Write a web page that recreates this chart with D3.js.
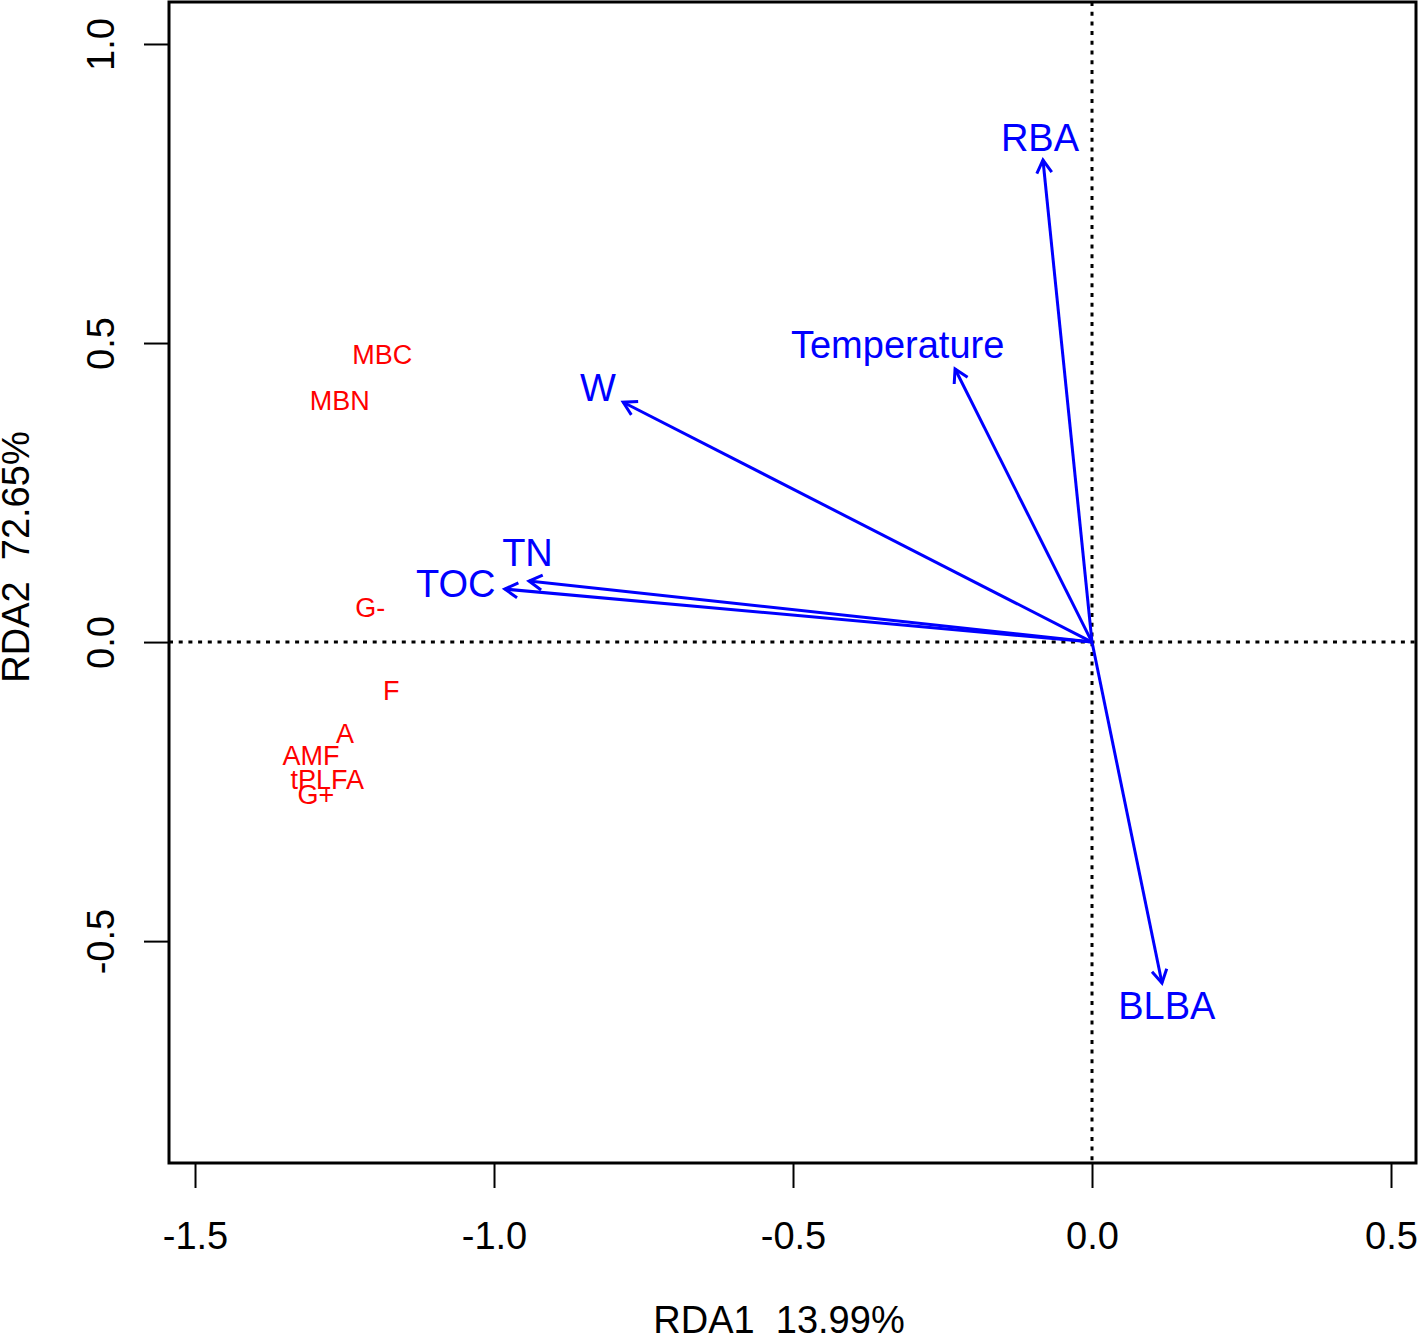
<!DOCTYPE html>
<html><head><meta charset="utf-8">
<script src="https://cdn.jsdelivr.net/npm/d3@7"></script>
<style>body{margin:0;background:#fff}svg{display:block}text{font-family:"Liberation Sans",Arial,Helvetica,sans-serif;white-space:pre}</style>
</head><body>
<svg id="c" width="1418" height="1335"></svg>
<script>
// Environmental vectors (arrow tips, RDA1/RDA2)
const envNames = ["RBA","Temperature","W","TN","TOC","BLBA"];
const envX = [-0.082,-0.229,-0.784,-0.9415,-0.982,0.117];
const envY = [0.806,0.4565,0.401,0.102,0.0886,-0.570];
// label positions for environmental vectors
const envLabX = [-0.087,-0.325,-0.826,-0.944,-1.064,0.125];
const envLabY = [0.843,0.497,0.424,0.149,0.097,-0.609];
// Response variables (species scores)
const spNames = ["MBC","MBN","G-","F","A","AMF","tPLFA","G+"];
const spX = [-1.187,-1.258,-1.207,-1.172,-1.249,-1.306,-1.279,-1.298];
const spY = [0.480,0.403,0.057,-0.082,-0.154,-0.191,-0.231,-0.256];
const xTicks = [-1.5,-1.0,-0.5,0.0,0.5];
const yTicks = [-0.5,0.0,0.5,1.0];
const xTitle = "RDA1  13.99%";
const yTitle = "RDA2  72.65%";

const svg = d3.select("#c");
const L=169,R=1416,T=2,B=1163;
const x = d3.scaleLinear().domain([-1.5435,0.5418]).range([L,R]);
const y = d3.scaleLinear().domain([-0.871,1.0702]).range([B,T]);
const fmt = d => d.toFixed(1);

// reference dotted lines
svg.append("line").attr("x1",L).attr("x2",R).attr("y1",y(0)).attr("y2",y(0))
  .attr("stroke","#000").attr("stroke-width",3).attr("stroke-dasharray","4,5.7");
svg.append("line").attr("x1",x(0)).attr("x2",x(0)).attr("y1",T).attr("y2",B)
  .attr("stroke","#000").attr("stroke-width",3).attr("stroke-dasharray","4,5.7");

// axes
const xAxis = d3.axisBottom(x).tickValues(xTicks).tickFormat(fmt).tickSize(25).tickPadding(34);
const gx = svg.append("g").attr("transform",`translate(0,${B})`).call(xAxis);
gx.select(".domain").remove();
gx.selectAll("line").attr("stroke","#000").attr("stroke-width",2);
gx.selectAll("text").attr("font-size",38).attr("fill","#000").attr("font-family",'"Liberation Sans",Arial,sans-serif');

const yAxis = d3.axisLeft(y).tickValues(yTicks).tickFormat(fmt).tickSize(25);
const gy = svg.append("g").attr("transform",`translate(${L},0)`).call(yAxis);
gy.select(".domain").remove();
gy.selectAll("line").attr("stroke","#000").attr("stroke-width",2);
gy.selectAll("text").attr("font-size",38).attr("fill","#000").attr("font-family",'"Liberation Sans",Arial,sans-serif')
  .attr("x",0).attr("dy",null).attr("text-anchor","middle")
  .attr("dominant-baseline","central")
  .attr("transform","translate(-68,0) rotate(-90)");

// box
svg.append("rect").attr("x",L).attr("y",T).attr("width",R-L).attr("height",B-T)
  .attr("fill","none").attr("stroke","#000").attr("stroke-width",3);

// titles
svg.append("text").attr("x",779).attr("y",1320).attr("text-anchor","middle").attr("dominant-baseline","central")
  .attr("font-size",38).text(xTitle);
svg.append("text").attr("transform","translate(16,557) rotate(-90)").attr("text-anchor","middle").attr("dominant-baseline","central")
  .attr("font-size",38).text(yTitle);

// arrows
const blue="#0000FF";
const ga = svg.append("g");
envNames.forEach((n,i)=>{
  const x0=x(0),y0=y(0),x1=x(envX[i]),y1=y(envY[i]);
  ga.append("line").attr("x1",x0).attr("y1",y0).attr("x2",x1).attr("y2",y1)
    .attr("stroke",blue).attr("stroke-width",3);
  const ang=Math.atan2(y1-y0,x1-x0), len=15, a=Math.PI/6;
  const p1=[x1-len*Math.cos(ang-a), y1-len*Math.sin(ang-a)];
  const p2=[x1-len*Math.cos(ang+a), y1-len*Math.sin(ang+a)];
  ga.append("path").attr("d",`M${p1[0]},${p1[1]}L${x1},${y1}L${p2[0]},${p2[1]}`)
    .attr("fill","none").attr("stroke",blue).attr("stroke-width",3);
  ga.append("text").attr("x",x(envLabX[i])).attr("y",y(envLabY[i]))
    .attr("text-anchor","middle").attr("dominant-baseline","central")
    .attr("font-size",38).attr("fill",blue).text(n);
});

// species labels
svg.append("g").selectAll("text").data(spNames).join("text")
  .attr("x",(d,i)=>x(spX[i])).attr("y",(d,i)=>y(spY[i]))
  .attr("text-anchor","middle").attr("dominant-baseline","central")
  .attr("font-size",27).attr("fill","#FF0000").text(d=>d);
</script>
</body></html>
